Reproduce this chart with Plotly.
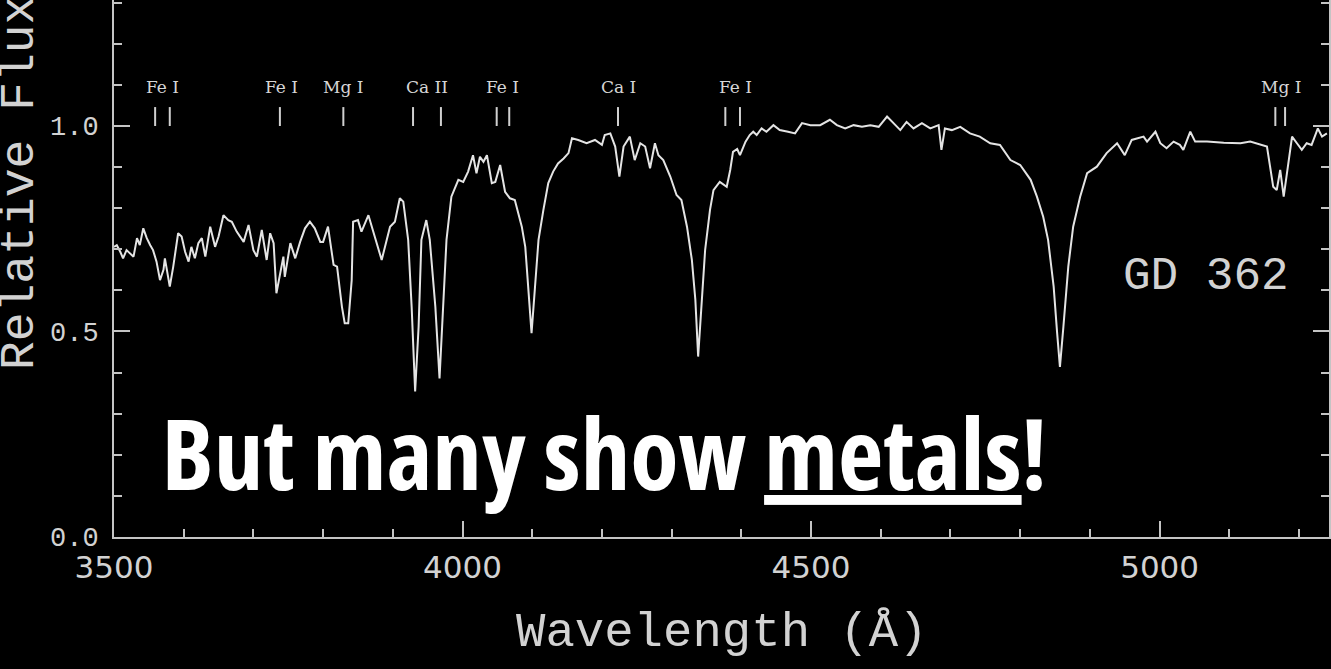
import plotly.graph_objects as go

# GD 362 optical spectrum (wavelength in Angstrom, normalised flux)
wavelength = [
    3500, 3504, 3509, 3513, 3518, 3523, 3528, 3533, 3537, 3542, 3547, 3552, 3556, 3561,
    3566, 3571, 3573, 3580, 3585, 3592, 3597, 3602, 3607, 3611, 3616, 3621, 3626, 3631,
    3638, 3645, 3650, 3657, 3664, 3669, 3676, 3686, 3693, 3700, 3705, 3712, 3719, 3724,
    3729, 3733, 3738, 3743, 3745, 3753, 3760, 3767, 3774, 3781, 3788, 3796,
    3800, 3807, 3815, 3820, 3827, 3831, 3836, 3841, 3843, 3850, 3855, 3865, 3874, 3884,
    3896, 3903, 3910, 3915, 3922, 3927, 3932, 3937, 3941, 3948, 3953, 3961, 3967, 3972,
    3977, 3984, 3994, 4001, 4008, 4015, 4020, 4025, 4030, 4035, 4042, 4047, 4054, 4061,
    4068, 4075, 4085, 4090, 4094, 4099, 4104, 4109, 4116, 4123, 4130, 4137, 4145, 4152,
    4157, 4166, 4178, 4190, 4200, 4204, 4212, 4219, 4225, 4231, 4240, 4247, 4255, 4262,
    4269, 4276, 4281, 4288, 4298, 4307, 4314, 4322, 4329, 4334, 4338, 4343, 4348, 4355,
    4360, 4369, 4379, 4384, 4388, 4394, 4398, 4406, 4412, 4417, 4422, 4429, 4436, 4446,
    4455, 4467, 4477, 4487, 4499, 4513, 4527, 4537, 4549, 4561, 4573, 4585, 4597, 4609,
    4618, 4628, 4637, 4647, 4659, 4671, 4683, 4687, 4692, 4702, 4714, 4728, 4742, 4757,
    4771, 4786, 4800, 4815, 4824, 4833, 4840, 4848, 4853, 4857, 4862, 4869, 4876, 4886,
    4896, 4910, 4924, 4939, 4950, 4960, 4977, 4982, 4994, 5001, 5010, 5020, 5029, 5034,
    5044, 5051, 5068, 5092, 5116, 5130, 5154, 5163, 5168, 5173, 5178, 5185, 5190, 5197,
    5204, 5211, 5218, 5227, 5233, 5240,
]
flux = [
    0.706, 0.710, 0.694, 0.678, 0.698, 0.690, 0.682, 0.727, 0.710, 0.751, 0.727, 0.710, 0.698, 0.670,
    0.625, 0.650, 0.678, 0.609, 0.658, 0.739, 0.731, 0.694, 0.670, 0.706, 0.678, 0.715, 0.727, 0.682,
    0.755, 0.706, 0.731, 0.783, 0.771, 0.767, 0.743, 0.718, 0.759, 0.698, 0.682, 0.747, 0.674, 0.739,
    0.715, 0.593, 0.642, 0.682, 0.633, 0.715, 0.678, 0.718, 0.751, 0.767, 0.751, 0.718,
    0.718, 0.755, 0.662, 0.658, 0.560, 0.520, 0.520, 0.625, 0.767, 0.771, 0.743, 0.783, 0.731, 0.674,
    0.755, 0.767, 0.824, 0.816, 0.723, 0.560, 0.354, 0.512, 0.723, 0.771, 0.723, 0.560, 0.386, 0.560,
    0.723, 0.828, 0.869, 0.864, 0.889, 0.929, 0.885, 0.925, 0.913, 0.929, 0.861, 0.864, 0.905, 0.840,
    0.824, 0.820, 0.755, 0.706, 0.609, 0.496, 0.609, 0.723, 0.796, 0.861, 0.889, 0.909, 0.921, 0.934,
    0.970, 0.966, 0.958, 0.966, 0.954, 0.978, 0.982, 0.950, 0.877, 0.950, 0.974, 0.917, 0.958, 0.950,
    0.897, 0.958, 0.929, 0.917, 0.877, 0.832, 0.820, 0.755, 0.674, 0.577, 0.439, 0.577, 0.698, 0.796,
    0.844, 0.864, 0.852, 0.893, 0.937, 0.944, 0.929, 0.962, 0.978, 0.986, 0.978, 0.994, 0.986, 1.002,
    0.990, 0.986, 0.982, 1.007, 1.002, 1.002, 1.015, 1.002, 0.994, 1.002, 0.998, 1.002, 0.998, 1.023,
    1.007, 0.990, 1.010, 0.994, 1.007, 0.994, 1.002, 0.942, 0.994, 0.990, 0.998, 0.982, 0.974, 0.958,
    0.954, 0.917, 0.905, 0.869, 0.828, 0.779, 0.723, 0.609, 0.496, 0.414, 0.512, 0.658, 0.755, 0.828,
    0.885, 0.901, 0.934, 0.958, 0.929, 0.966, 0.974, 0.962, 0.986, 0.958, 0.946, 0.962, 0.954, 0.942,
    0.986, 0.962, 0.962, 0.959, 0.958, 0.962, 0.950, 0.852, 0.844, 0.893, 0.828, 0.917, 0.974, 0.958,
    0.942, 0.958, 0.954, 0.994, 0.974, 0.982,
]

# Metal line identifications: label text and label centre wavelength
line_labels = ["Fe I", "Fe I", "Mg I", "Ca II", "Fe I", "Ca I", "Fe I", "Mg I"]
label_wavelengths = [3570, 3740, 3829, 3949, 4057, 4224, 4391, 5174]
# Individual line positions marked with short ticks
marker_wavelengths = [3559, 3580, 3738, 3829, 3929, 3969, 4049, 4067, 4223, 4377, 4398, 5166, 5180]

X_RANGE = [3500, 5243]
Y_RANGE = [0, 1.3065]
AXIS_COLOR = "#c4c4c4"
TEXT_COLOR = "#d2d2d2"
MONO = "Liberation Mono, DejaVu Sans Mono, monospace"

fig = go.Figure()

fig.add_trace(go.Scatter(
    x=wavelength, y=flux, mode="lines",
    line=dict(color="#e4e4e4", width=2),
    hoverinfo="skip", showlegend=False,
))

# short vertical ticks above the continuum for each identified line
tick_x, tick_y = [], []
for w in marker_wavelengths:
    tick_x += [w, w, None]
    tick_y += [1.0, 1.046, None]
fig.add_trace(go.Scatter(
    x=tick_x, y=tick_y, mode="lines",
    line=dict(color="#d0d0d0", width=2),
    hoverinfo="skip", showlegend=False,
))

# right-hand frame with inward ticks
fig.add_trace(go.Scatter(x=[X_RANGE[1]], y=[0.5], yaxis="y2", mode="markers",
                         marker=dict(opacity=0), hoverinfo="skip", showlegend=False))

annotations = []
for text, w in zip(line_labels, label_wavelengths):
    annotations.append(dict(
        x=w, y=1.096, xref="x", yref="y", text=text, showarrow=False,
        xanchor="center", yanchor="middle",
        font=dict(family="DejaVu Serif, serif", size=17, color="#d6d6d6"),
    ))

annotations.append(dict(
    x=5067, y=0.633, xref="x", yref="y", text="GD 362", showarrow=False,
    xanchor="center", yanchor="middle",
    font=dict(family=MONO, size=46, color=TEXT_COLOR),
))

annotations.append(dict(
    x=0.5, y=0, xref="paper", yref="paper", yshift=-96,
    text="Wavelength (Å)", showarrow=False, xanchor="center", yanchor="middle",
    font=dict(family=MONO, size=49, color=TEXT_COLOR),
))

annotations.append(dict(
    x=0, y=0.659, xref="paper", yref="paper", xshift=-94,
    text="Relative Flux", showarrow=False, textangle=-90,
    xanchor="center", yanchor="middle",
    font=dict(family=MONO, size=48, color=TEXT_COLOR),
))

annotations.append(dict(
    x=4204, y=0.207, xref="x", yref="y",
    text="But many show <u>metals</u>!", showarrow=False,
    xanchor="center", yanchor="middle",
    font=dict(family="Open Sans, sans-serif", size=99, color="#ffffff", weight=700),
))

fig.update_layout(
    width=1331, height=669,
    margin=dict(l=114, r=2, t=0, b=132),
    paper_bgcolor="#000000", plot_bgcolor="#000000",
    showlegend=False,
    annotations=annotations,
    xaxis=dict(
        range=X_RANGE, showgrid=False, zeroline=False,
        showline=True, linecolor=AXIS_COLOR, linewidth=2,
        ticks="inside", ticklen=16, tickwidth=2, tickcolor=AXIS_COLOR,
        tick0=3500, dtick=500, ticklabelstandoff=2,
        tickfont=dict(family="DejaVu Sans, sans-serif", size=31, color=TEXT_COLOR),
        minor=dict(dtick=100, ticks="inside", ticklen=8, tickwidth=2, tickcolor=AXIS_COLOR),
    ),
    yaxis=dict(
        range=Y_RANGE, showgrid=False, zeroline=False,
        showline=True, linecolor=AXIS_COLOR, linewidth=2,
        ticks="inside", ticklen=16, tickwidth=2, tickcolor=AXIS_COLOR,
        tick0=0, dtick=0.5, tickformat=".1f", ticklabelstandoff=8,
        tickfont=dict(family=MONO, size=27, color=TEXT_COLOR),
        minor=dict(dtick=0.1, ticks="inside", ticklen=8, tickwidth=2, tickcolor=AXIS_COLOR),
    ),
    yaxis2=dict(
        range=Y_RANGE, overlaying="y", side="right", showgrid=False, zeroline=False,
        showline=True, linecolor=AXIS_COLOR, linewidth=2,
        ticks="inside", ticklen=16, tickwidth=2, tickcolor=AXIS_COLOR,
        tick0=0, dtick=0.5, showticklabels=False,
        minor=dict(dtick=0.1, ticks="inside", ticklen=8, tickwidth=2, tickcolor=AXIS_COLOR),
    ),
)

# narrow (condensed) face for the headline annotation
condense_js = """
var gd = document.getElementById('{plot_id}');
function condenseHeadline() {
  gd.querySelectorAll('text.annotation-text').forEach(function (t) {
    if (t.textContent.indexOf('metals') >= 0) { t.style.fontStretch = '75%'; }
  });
}
condenseHeadline();
gd.on('plotly_afterplot', condenseHeadline);
"""

fig.write_html("out.html", post_script=condense_js)
